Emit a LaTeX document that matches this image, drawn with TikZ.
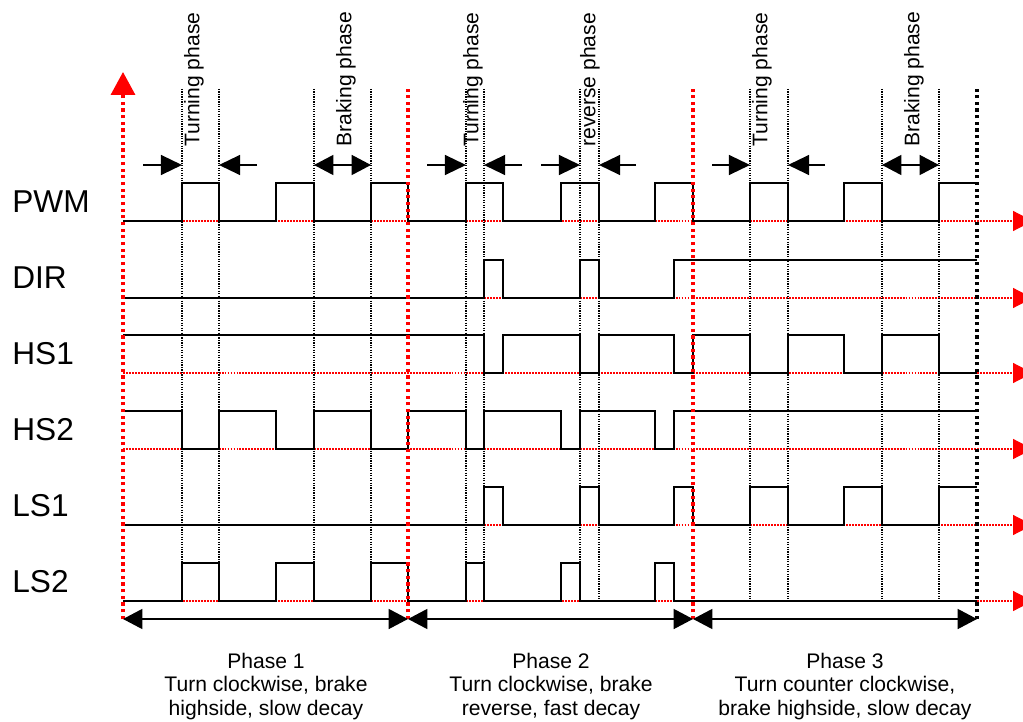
\documentclass[tikz,border=0pt]{standalone}
\usepackage{fontspec}
\setmainfont{Liberation Sans}
\usetikzlibrary{arrows.meta}
\definecolor{axisred}{RGB}{255,0,0}

\begin{document}
\begin{tikzpicture}[x=0.02cm, y=-0.02cm,
  wave/.style={line width=1.1pt},
  zeroaxis/.style={axisred, line width=0.6pt, dash pattern=on 1.1pt off 0.6pt, -{Triangle[length=11.3pt,width=11.3pt]}},
  phaseline/.style={line width=1.8pt, dash pattern=on 1.8pt off 2pt},
  tickline/.style={line width=0.6pt, dash pattern=on 0.7pt off 0.7pt},
  spanarrow/.style={line width=1.1pt, {Triangle[length=11pt,width=11.3pt]}-{Triangle[length=11pt,width=11.3pt]}},
  pusharrow/.style={line width=1.1pt, -{Triangle[length=12pt,width=11.3pt]}},
  siglabel/.style={anchor=west, inner sep=0pt, font=\fontsize{18}{20}\selectfont},
  phaselabel/.style={rotate=90, anchor=west, inner sep=0pt, font=\fontsize{12}{14}\selectfont},
  phasecaption/.style={anchor=north, inner sep=0pt, align=center, font=\fontsize{12}{13.2}\selectfont}]
\path[use as bounding box, clip] (0,0) rectangle (1023,722);

% Zero lines
\draw[zeroaxis] (123,221) -- (1033,221);
\draw[zeroaxis] (123,298) -- (1033,298);
\draw[zeroaxis] (123,373) -- (1033,373);
\draw[zeroaxis] (123,449) -- (1033,449);
\draw[zeroaxis] (123,525) -- (1033,525);
\draw[zeroaxis] (123,601) -- (1033,601);

% Time marks
\draw[tickline] (182,89) -- (182,601);
\draw[tickline] (219,89) -- (219,601);
\draw[tickline] (314,89) -- (314,601);
\draw[tickline] (371,89) -- (371,601);
\draw[tickline] (466,89) -- (466,601);
\draw[tickline] (484,89) -- (484,601);
\draw[tickline] (580,89) -- (580,601);
\draw[tickline] (599,89) -- (599,601);
\draw[tickline] (750,89) -- (750,601);
\draw[tickline] (788,89) -- (788,601);
\draw[tickline] (882,89) -- (882,601);
\draw[tickline] (939,89) -- (939,601);

% Signal names
\node[siglabel] (pwm) at (12,202) {PWM};
\node[siglabel] (dir) at (12,278) {DIR};
\node[siglabel] (hs1) at (12,354) {HS1};
\node[siglabel] (hs2) at (12,430) {HS2};
\node[siglabel] (ls1) at (12,506) {LS1};
\node[siglabel] (ls2) at (12,582) {LS2};

% PWM
\draw[wave] (123,221) -- (182,221) -- (182,183) -- (219,183) -- (219,221) -- (276,221) -- (276,183) -- (314,183) -- (314,221)
  -- (371,221) -- (371,183) -- (408,183) -- (408,221) -- (466,221) -- (466,183) -- (503,183) -- (503,221)
  -- (561,221) -- (561,183) -- (599,183) -- (599,221) -- (655,221) -- (655,183) -- (693,183) -- (693,221)
  -- (750,221) -- (750,183) -- (788,183) -- (788,221) -- (844,221) -- (844,183) -- (882,183) -- (882,221)
  -- (939,221) -- (939,183) -- (977,183);

% DIR
\draw[wave] (123,298) -- (484,298) -- (484,260) -- (503,260) -- (503,298) -- (580,298) -- (580,260) -- (599,260)
  -- (599,298) -- (674,298) -- (674,260) -- (977,260);

% HS1
\draw[wave] (123,335) -- (484,335) -- (484,373) -- (503,373) -- (503,335) -- (580,335) -- (580,373) -- (599,373)
  -- (599,335) -- (674,335) -- (674,373) -- (693,373) -- (693,335) -- (750,335) -- (750,373) -- (788,373)
  -- (788,335) -- (844,335) -- (844,373) -- (882,373) -- (882,335) -- (939,335) -- (939,373) -- (977,373);

% HS2
\draw[wave] (123,411) -- (182,411) -- (182,449) -- (219,449) -- (219,411) -- (276,411) -- (276,449) -- (314,449)
  -- (314,411) -- (371,411) -- (371,449) -- (408,449) -- (408,411) -- (466,411) -- (466,449) -- (484,449)
  -- (484,411) -- (561,411) -- (561,449) -- (580,449) -- (580,411) -- (655,411) -- (655,449) -- (674,449)
  -- (674,411) -- (977,411);

% LS1
\draw[wave] (123,525) -- (484,525) -- (484,487) -- (503,487) -- (503,525) -- (580,525) -- (580,487) -- (599,487)
  -- (599,525) -- (674,525) -- (674,487) -- (693,487) -- (693,525) -- (750,525) -- (750,487) -- (788,487)
  -- (788,525) -- (844,525) -- (844,487) -- (882,487) -- (882,525) -- (939,525) -- (939,487) -- (977,487);

% LS2
\draw[wave] (123,601) -- (182,601) -- (182,563) -- (219,563) -- (219,601) -- (276,601) -- (276,563) -- (314,563)
  -- (314,601) -- (371,601) -- (371,563) -- (408,563) -- (408,601) -- (466,601) -- (466,563) -- (484,563)
  -- (484,601) -- (561,601) -- (561,563) -- (580,563) -- (580,601) -- (655,601) -- (655,563) -- (674,563)
  -- (674,601) -- (977,601);

% Phase borders
\coordinate (p0) at (123,619);
\coordinate (p1) at (408,619);
\coordinate (p2) at (693,619);
\coordinate (p3) at (977,619);
\draw[phaseline, axisred, -{Triangle[length=13pt,width=13.6pt]}] (p0) -- (123,72);
\draw[phaseline, axisred] (p1) -- (408,89);
\draw[phaseline, axisred] (p2) -- (693,89);
\draw[phaseline] (p3) -- (977,89);

% Phase 1 marks
\draw[pusharrow] (143,165) -- (182,165);
\draw[pusharrow] (257,165) -- (219,165);
\draw[spanarrow] (314,165) -- (371,165);
\node[phaselabel] (turn1) at (194,147) {Turning phase};
\node[phaselabel] (brake1) at (346,147) {Braking phase};

% Phase 2 marks
\draw[pusharrow] (427,165) -- (466,165);
\draw[pusharrow] (522,165) -- (484,165);
\draw[pusharrow] (541,165) -- (580,165);
\draw[pusharrow] (636,165) -- (599,165);
\node[phaselabel] (turn2) at (473,147) {Turning phase};
\node[phaselabel] (rev2) at (590,147) {reverse phase};

% Phase 3 marks
\draw[pusharrow] (712,165) -- (750,165);
\draw[pusharrow] (825,165) -- (788,165);
\draw[spanarrow] (882,165) -- (939,165);
\node[phaselabel] (turn3) at (762,147) {Turning phase};
\node[phaselabel] (brake3) at (914,147) {Braking phase};

% Phase spans
\draw[spanarrow] (p0) -- (p1);
\draw[spanarrow] (p1) -- (p2);
\draw[spanarrow] (p2) -- (p3);
\node[phasecaption] (cap1) at (266,653) {Phase 1\\Turn clockwise, brake\\highside, slow decay};
\node[phasecaption] (cap2) at (551,653) {Phase 2\\Turn clockwise, brake\\reverse, fast decay};
\node[phasecaption] (cap3) at (845,653) {Phase 3\\Turn counter clockwise,\\brake highside, slow decay};
\end{tikzpicture}
\end{document}
